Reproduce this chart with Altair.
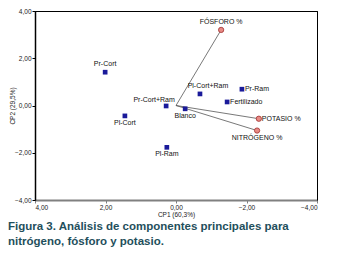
import altair as alt
import pandas as pd

# Treatment scores
treat_names = ["Pr-Cort", "Pl-Cort", "Pr-Cort+Ram", "Pl-Ram", "Blanco",
               "Pl-Cort+Ram", "Pr-Ram", "Fertilizado"]
treat_cp1 = [2.01, 1.45, 0.28, 0.26, -0.26, -0.68, -1.87, -1.45]
treat_cp2 = [1.41, -0.44, -0.02, -1.77, -0.14, 0.49, 0.69, 0.15]

# Variable loadings
var_names = ["FÓSFORO %", "POTASIO %", "NITRÓGENO %"]
var_cp1 = [-1.28, -2.35, -2.30]
var_cp2 = [3.20, -0.56, -1.06]

tick_vals = [-4, -2, 0, 2, 4]

caption = ["Figura 3. Análisis de componentes principales para",
           "nitrógeno, fósforo y potasio."]

placement = {
    "Pr-Cort": "above", "Pl-Cort": "below", "Pr-Cort+Ram": "aboveleft",
    "Pl-Ram": "below", "Blanco": "below", "Pl-Cort+Ram": "aboveright",
    "Pr-Ram": "right", "Fertilizado": "right",
    "FÓSFORO %": "above", "POTASIO %": "right", "NITRÓGENO %": "below",
}

tdf = pd.DataFrame({"name": treat_names, "cp1": treat_cp1, "cp2": treat_cp2})
vdf = pd.DataFrame({"name": var_names, "cp1": var_cp1, "cp2": var_cp2})
tdf["pos"] = tdf["name"].map(placement)
vdf["pos"] = vdf["name"].map(placement)
alldf = pd.concat([tdf, vdf], ignore_index=True)

W, H = 282, 189
lab = "replace(format(datum.value, '.2f'), '.', ',')"
FONT = "Liberation Sans"
lo, hi = tick_vals[0], tick_vals[-1]

xscale = alt.Scale(domain=[lo, hi], reverse=True, nice=False)
yscale = alt.Scale(domain=[lo, hi], nice=False)

x = alt.X("cp1:Q", title="CP1 (60,3%)", scale=xscale,
          axis=alt.Axis(values=tick_vals, labelExpr=lab, grid=False,
                        domainColor="#808080", domainWidth=2,
                        tickColor="#808080", tickSize=3,
                        labelFontSize=6.5, titleFontSize=6.5, labelPadding=1,
                        titlePadding=1, labelColor="#222", titleColor="#222",
                        labelFont=FONT, titleFont=FONT, titleFontWeight="normal"))
y = alt.Y("cp2:Q", title="CP2 (29,5%)", scale=yscale,
          axis=alt.Axis(values=tick_vals, labelExpr=lab, grid=False,
                        domainColor="black", domainWidth=1.5,
                        tickColor="black", tickSize=3,
                        labelFontSize=6.5, titleFontSize=6.5, labelPadding=1,
                        titleX=-20, titleY=H / 2, titleAlign="center",
                        titleAngle=270, titleBaseline="bottom",
                        labelColor="#222", titleColor="#222",
                        labelFont=FONT, titleFont=FONT, titleFontWeight="normal"))

rules = alt.Chart(vdf).mark_rule(color="#555", strokeWidth=0.8).encode(
    x=x, y=y, x2=alt.datum(0), y2=alt.datum(0))

squares = alt.Chart(tdf).mark_square(size=22, color="#1a1a9a", opacity=1).encode(x=x, y=y)
circles = alt.Chart(vdf).mark_circle(size=28, fill="#e88a84", stroke="#a03030",
                                     strokeWidth=0.8, opacity=1).encode(x=x, y=y)

def labels(pos, **kw):
    return alt.Chart(alldf).transform_filter(
        alt.datum.pos == pos).mark_text(fontSize=7, font=FONT, color="#111", **kw
    ).encode(x=x, y=y, text="name:N")

texts = [
    labels("above", dy=-8, align="center"),
    labels("below", dy=7, align="center"),
    labels("aboveleft", dy=-6, dx=-12, align="center"),
    labels("aboveright", dy=-8, dx=8, align="center"),
    labels("right", dx=3, align="left"),
]

cap_df = pd.DataFrame({"cap": ["\n".join(caption)]})
cap = alt.Chart(cap_df).mark_text(
    align="left", baseline="top", lineBreak="\n", fontSize=11.5, font=FONT,
    fontWeight="bold", color="#1f4f5c", lineHeight=15).encode(
    x=alt.value(-27), y=alt.value(H + 21), text="cap:N")

main = alt.layer(rules, squares, circles, *texts, cap)

# top and right frame drawn as label-less axes
frame_df = pd.DataFrame({"fx": [lo, hi], "fy": [lo, hi]})
frame = alt.Chart(frame_df).mark_point(opacity=0).encode(
    x=alt.X("fx:Q", scale=xscale,
            axis=alt.Axis(orient="top", labels=False, ticks=False, title=None,
                          grid=False, domainColor="black", domainWidth=1)),
    y=alt.Y("fy:Q", scale=yscale,
            axis=alt.Axis(orient="right", labels=False, ticks=False, title=None,
                          grid=False, domainColor="black", domainWidth=1)))

chart = alt.layer(main, frame).resolve_axis(
    x="independent", y="independent").properties(
    width=W, height=H,
    padding={"left": 0, "top": 0, "right": 8, "bottom": 0},
).configure_view(stroke="black", strokeWidth=1)

chart.save("out.html", embed_options={"renderer": "svg", "actions": False})
